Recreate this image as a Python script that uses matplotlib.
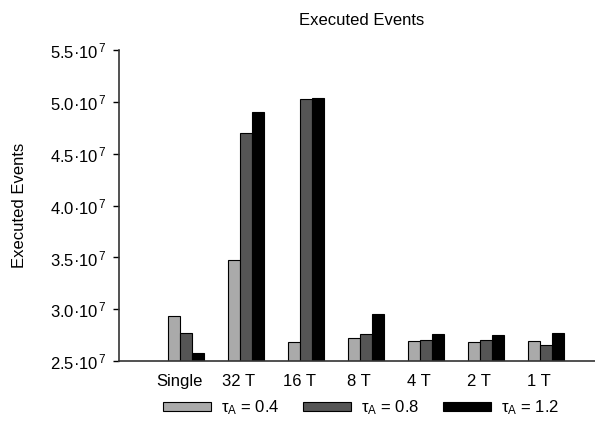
import numpy as np
import matplotlib
matplotlib.use("Agg")
import matplotlib.pyplot as plt

plt.rcParams['font.family'] = ['Liberation Sans', 'DejaVu Sans']
plt.rcParams['mathtext.fontset'] = 'custom'
plt.rcParams['mathtext.rm'] = 'Liberation Sans'
plt.rcParams['mathtext.it'] = 'Liberation Sans'
plt.rcParams['mathtext.sf'] = 'Liberation Sans'

# data (units of 1e7 executed events)
categories = ["Single", "32 T", "16 T", "8 T", "4 T", "2 T", "1 T"]
tau_04 = [2.94, 3.48, 2.68, 2.72, 2.695, 2.685, 2.69]
tau_08 = [2.77, 4.70, 5.025, 2.765, 2.70, 2.70, 2.66]
tau_12 = [2.575, 4.90, 5.04, 2.955, 2.765, 2.75, 2.77]
series_labels = ["τ$_{\\mathrm{A}}$ = 0.4", "τ$_{\\mathrm{A}}$ = 0.8", "τ$_{\\mathrm{A}}$ = 1.2"]
yticks = [2.5, 3.0, 3.5, 4.0, 4.5, 5.0, 5.5]

fig = plt.figure(figsize=(5.95, 4.32), dpi=100)
ax = fig.add_axes([0.2, 0.164, 0.8, 0.72])

x = np.arange(1, len(categories) + 1)
w = 0.2
colors = ["#aaaaaa", "#555555", "#000000"]
for i, (vals, c, lab) in enumerate(zip([tau_04, tau_08, tau_12], colors, series_labels)):
    ax.bar(x - 0.08 + i * w, np.array(vals) * 1e7, width=w, color=c,
           edgecolor="black", linewidth=0.8, label=lab)

ax.set_ylim(2.5e7, 5.5e7)
ax.set_xlim(0, 7.93)
ax.set_yticks([v * 1e7 for v in yticks])
ax.set_yticklabels(["%.1f·10$^{\\,7}$" % v for v in yticks], fontsize=12)
ax.set_xticks(x)
ax.set_xticklabels(categories, fontsize=12)
ax.tick_params(axis="x", length=0, pad=9)
ax.tick_params(axis="y", length=4, direction="out", width=1, pad=5)
ax.spines["top"].set_visible(False)
ax.spines["right"].set_visible(False)
ax.spines["left"].set_linewidth(1.2)
ax.spines["bottom"].set_linewidth(1.2)
ax.spines["left"].set_color("#333333")
ax.spines["bottom"].set_color("#333333")

ax.set_ylabel("Executed Events", fontsize=12, labelpad=16)
fig.text(0.608, 0.952, "Executed Events", ha="center", va="center", fontsize=12)

leg = fig.legend(loc="center", bbox_to_anchor=(0.607, 0.056), ncol=3, frameon=False,
                 fontsize=12, handlelength=2.9, handleheight=0.45, handletextpad=0.6,
                 columnspacing=1.4)

fig.savefig("out.png", dpi=100)
